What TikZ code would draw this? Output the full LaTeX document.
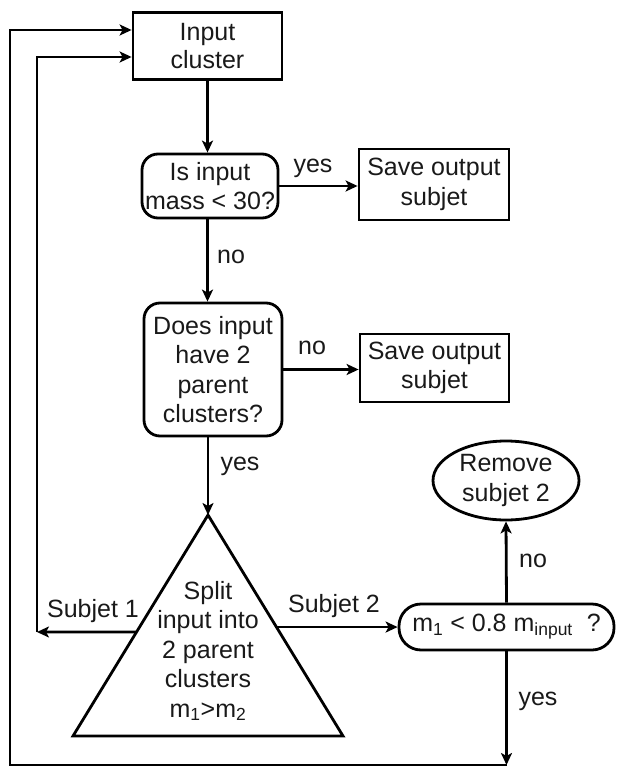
\documentclass[tikz,border=0pt]{standalone}
\usepackage{fontspec}
\setmainfont{Liberation Sans}
\usetikzlibrary{arrows.meta,shapes.geometric,calc}
\begin{document}
\begin{tikzpicture}[x=1pt,y=-1pt,
  every node/.style={font=\fontsize{25}{29.5}\selectfont, text=black!90, inner sep=0pt, align=center},
  line/.style={line width=2.8pt},
  arr/.style={line, -{Stealth[length=12pt,width=11pt,inset=3pt]}},
  sqbox/.style={draw, line width=2.8pt, rectangle},
  rbox/.style={draw, line width=2.8pt, rectangle, rounded corners=16pt},
  lbl/.style={}
]
\useasboundingbox (0,0) rectangle (617,767);

\node[sqbox, minimum width=149pt, minimum height=67pt, font=\fontsize{25}{27.5}\selectfont] (input) at (207.5,46) {Input\\cluster};
\node[rbox, minimum width=136pt, minimum height=64pt] (isin) at (210,186) {Is input\\mass < 30?};
\node[sqbox, minimum width=150pt, minimum height=71pt] (save1) at (434,184.5) {Save output\\subjet};
\node[rbox, minimum width=138pt, minimum height=133pt] (doesin) at (213,369.5) {Does input\\have 2\\parent\\clusters?};
\node[sqbox, minimum width=149pt, minimum height=68pt] (save2) at (434.5,368) {Save output\\subjet};
\node[draw, ellipse, line width=2.8pt, minimum width=146pt, minimum height=79pt] (remove) at (506,480.5) {Remove\\subjet 2};
\node[rbox, rounded corners=22pt, minimum width=215pt, minimum height=46pt] (m1) at (506.5,627) {m\textsubscript{1} < 0.8 m\textsubscript{input}\ \ ?};

% triangle
\coordinate (tA) at (208,515);
\coordinate (tR) at (343,736);
\coordinate (tL) at (73,736);
\draw[line] (tA) -- (tR) -- (tL) -- cycle;
\node (split) at (208,651) {Split\\input into\\2 parent\\clusters\\m\textsubscript{1}>m\textsubscript{2}};

% main flow
\draw[arr] (input.south) -- (input.south |- isin.north);
\draw[arr] (isin.south -| input.south) -- (input.south |- doesin.north);
\draw[arr] (doesin.south -| tA) -- (tA);
\draw[arr] (isin.east) -- (isin.east -| save1.west);
\draw[arr] (doesin.east) -- (doesin.east -| save2.west);

% subjets
\coordinate (s2) at ($(tA)!0.507!(tR)$);
\draw[arr] (s2) -- (s2 -| m1.west);
\coordinate (s1) at ($(tA)!0.529!(tL)$);
\coordinate (c1) at (37,632);
\draw[arr] (s1) -- (c1);
\draw[arr] (c1) |- ($(input.west)+(0,11)$);

\draw[arr] (m1.north) -- (remove.south);
\coordinate (c2) at (506.5,765);
\coordinate (o1) at (10,765);
\draw[arr] (m1.south) -- (c2);
\draw[arr] (c2) -- (o1) |- ($(input.west)+(0,-16)$);

% labels
\node[lbl] (lyes1) at (313,168) {yes};
\node[lbl] (lno1) at (231,257) {no};
\node[lbl] (lno2) at (312,348) {no};
\node[lbl] (lyes2) at (240,466) {yes};
\node[lbl] (lsub1) at (93,611) {Subjet 1};
\node[lbl] (lsub2) at (334,606) {Subjet 2};
\node[lbl] (lno3) at (533,561) {no};
\node[lbl] (lyes3) at (538,701) {yes};
\end{tikzpicture}
\end{document}
